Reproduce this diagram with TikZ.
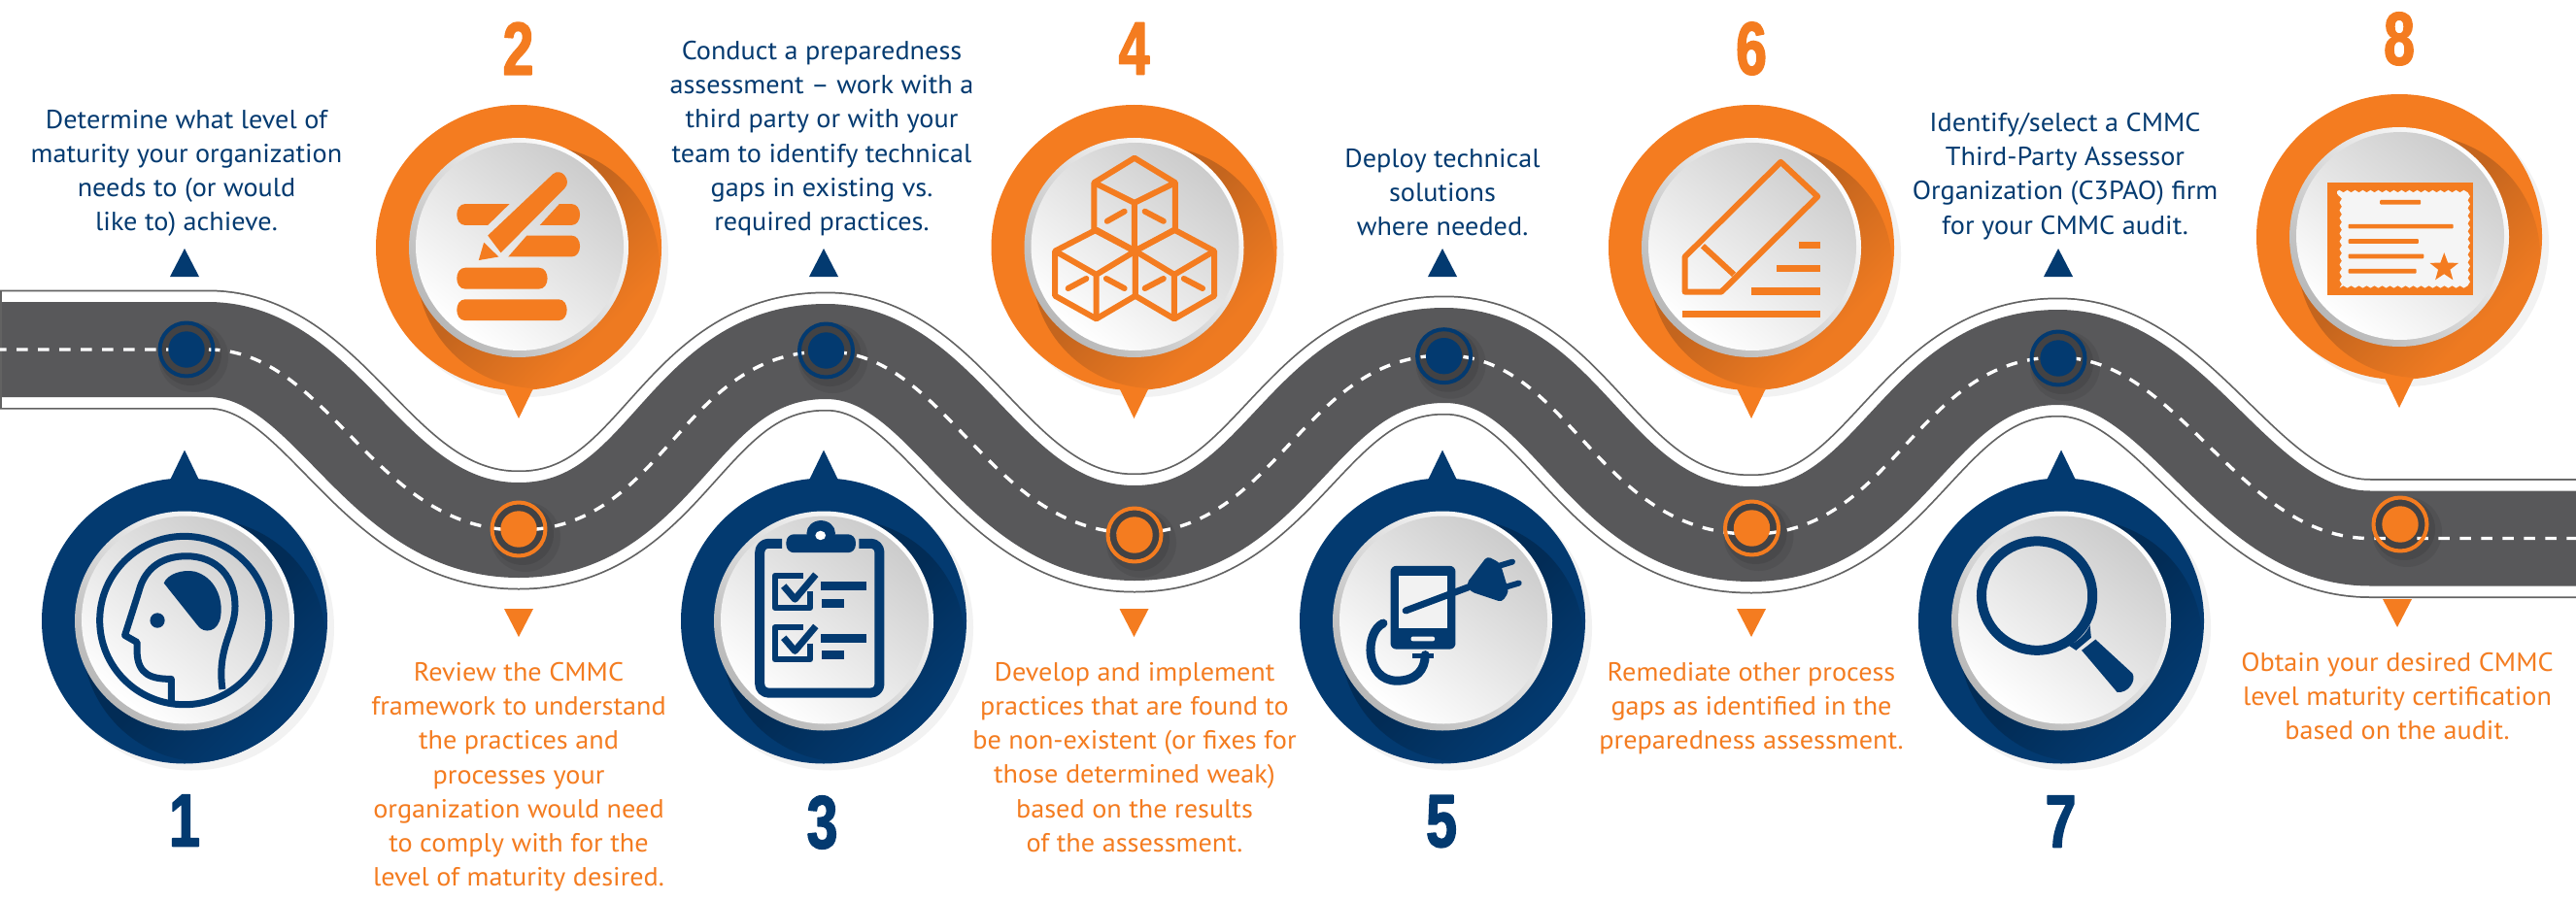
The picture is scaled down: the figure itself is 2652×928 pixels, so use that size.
\documentclass[tikz,border=0pt]{standalone}
\usepackage{fontspec}
\usetikzlibrary{shapes.geometric,decorations.pathmorphing}
\setmainfont[FakeStretch=1.045]{PT Sans}
\newfontfamily\numfont[FakeBold=2,FakeStretch=0.74]{Liberation Sans Bold}
\definecolor{rnavy}{HTML}{033A70}
\definecolor{rnavyd}{HTML}{022C56}
\definecolor{rorange}{HTML}{F47C20}
\definecolor{rorangeb}{HTML}{EE7A21}
\definecolor{rorangd}{HTML}{C4651E}
\definecolor{rroad}{HTML}{58585A}
\definecolor{rline}{HTML}{626262}
\pgfdeclarehorizontalshading{pinshadeorange}{100bp}{color(0bp)=(rorangd);color(46bp)=(rorangd);color(69bp)=(rorangeb);color(100bp)=(rorangeb)}
\pgfdeclarehorizontalshading{pinshadenavy}{100bp}{color(0bp)=(rnavyd);color(50bp)=(rnavyd);color(72bp)=(rnavy);color(100bp)=(rnavy)}
\tikzset{
 txt/.style={font=\fontsize{27}{35.2}\selectfont,align=center,inner sep=0pt,anchor=north},
 navytxt/.style={txt,text=rnavy},
 orgtxt/.style={txt,text=rorange},
 num/.style={font=\numfont\fontsize{77}{77}\selectfont,inner sep=0pt,anchor=center},
 panel/.style={shift={(#1,0)},x=0.4464pt,y=-0.5917pt},
}
\newcommand\mypin[5]{%
 \begin{scope}[shift={(#1,#2)}]
  \fill[black!5] (7,7) circle (147);
  \fill[#3] (0,0) circle (147);
  \fill[#3] (-15,#5*145) -- (15,#5*145) -- (0,#5*176) -- cycle;
  \begin{scope}
   \clip (0,0) circle (147);
   \shade[shading=#4,shading angle=-45] (20,20) circle (125);
  \end{scope}
  \shade[bottom color=black!28,top color=white,shading angle=-45] (0,0) circle (113);
  \shade[bottom color=white,top color=black!20,shading angle=-38] (1,-1) circle (107);
 \end{scope}}
\newcommand\mymark[3]{%
 \fill[black,opacity=.07] (#1+7,#2+8) circle (36);
 \fill[black,opacity=.09] (#1+4,#2+5) circle (32);
 \fill[rroad!75!black] (#1,#2) circle (28);
}
\newcommand\mymarktop[3]{%
 \draw[#3,line width=4pt] (#1,#2) circle (27.5);
 \fill[#3] (#1,#2) circle (18.7);
}
\newcommand\uptri[2]{\fill[rnavy] (#1-15,#2) -- (#1+15,#2) -- (#1,#2-29) -- cycle;}
\newcommand\dntri[2]{\fill[rorange] (#1-15,#2) -- (#1+15,#2) -- (#1,#2+29) -- cycle;}
\begin{document}
\begin{tikzpicture}[x=1pt,y=-1pt,line join=round]
\useasboundingbox (0,0) rectangle (2652,928);
\fill[white] (0,0) rectangle (2652,928);
% road
\def\roadpath{(-5,360) -- (214,360)
 .. controls (339,360) and (384,546) .. (534,546)
 .. controls (685,546) and (699,362) .. (850.5,362)
 .. controls (975,362) and (1018,549) .. (1168,549)
 .. controls (1315,549) and (1340,366) .. (1487,366)
 .. controls (1617,366) and (1643,550) .. (1803,550)
 .. controls (1950,550) and (1972,368) .. (2119,368)
 .. controls (2244,368) and (2305,554.5) .. (2440,554.5) -- (2660,554.5)}
\draw[rline,line width=123pt] \roadpath;
\draw[white,line width=119.5pt] \roadpath;
\draw[rroad,line width=98pt] \roadpath;
\draw[rline,line width=2pt] (1,300) -- (1,420);
% markers base
\mymark{192}{360}{rnavy}
\mymark{534}{545}{rorange}
\mymark{850.5}{361}{rnavy}
\mymark{1168}{551}{rorange}
\mymark{1486.6}{366.7}{rnavy}
\mymark{1803.5}{544}{rorange}
\mymark{2119}{369}{rnavy}
\mymark{2471}{540}{rorange}
\draw[white,line width=3.4pt,dash pattern=on 11.5pt off 10.5pt] \roadpath;
\mymarktop{192}{360}{rnavy}
\mymarktop{534}{545}{rorange}
\mymarktop{850.5}{361}{rnavy}
\mymarktop{1168}{551}{rorange}
\mymarktop{1486.6}{366.7}{rnavy}
\mymarktop{1803.5}{544}{rorange}
\mymarktop{2119}{369}{rnavy}
\mymarktop{2471}{540}{rorange}
% pins
\mypin{190}{639.5}{rnavy}{pinshadenavy}{-1}
\mypin{534}{255}{rorange}{pinshadeorange}{1}
\mypin{848}{639.5}{rnavy}{pinshadenavy}{-1}
\mypin{1167.5}{255}{rorange}{pinshadeorange}{1}
\mypin{1485}{639.5}{rnavy}{pinshadenavy}{-1}
\mypin{1803}{255}{rorange}{pinshadeorange}{1}
\mypin{2122}{639.5}{rnavy}{pinshadenavy}{-1}
\mypin{2470}{244}{rorange}{pinshadeorange}{1}
% triangles
\uptri{190}{285} \uptri{848}{285} \uptri{1485}{285} \uptri{2119}{285}
\dntri{534}{627} \dntri{1167.5}{627} \dntri{1803}{627} \dntri{2468}{617}
% numbers
\node[num,text=rnavy] (n1) at (190,845) {1};
\node[num,text=rorange] (n2) at (533.5,50) {2};
\node[num,text=rnavy] (n3) at (846.5,847) {3};
\node[num,text=rorange] (n4) at (1167.5,50) {4};
\node[num,text=rnavy] (n5) at (1484,846) {5};
\node[num,text=rorange] (n6) at (1803,50) {6};
\node[num,text=rnavy] (n7) at (2121.6,846) {7};
\node[num,text=rorange] (n8) at (2470,40) {8};
% texts
\node[navytxt] (t1) at (192,113) {Determine what level of\\maturity your organization\\needs to (or would\\like to) achieve.};
\node[orgtxt] (t2) at (534,682) {Review the CMMC\\framework to understand\\the practices and\\processes your\\organization would need\\to comply with for the\\level of maturity desired.};
\node[navytxt] (t3) at (846,42) {Conduct a preparedness\\assessment -- work with a\\third party or with your\\team to identify technical\\gaps in existing vs.\\required practices.};
\node[orgtxt] (t4) at (1168,682) {Develop and implement\\practices that are found to\\be non-existent (or fixes for\\those determined weak)\\based on the results\\of the assessment.};
\node[navytxt] (t5) at (1485,153) {Deploy technical\\solutions\\where needed.};
\node[orgtxt] (t6) at (1803,682) {Remediate other process\\gaps as identified in the\\preparedness assessment.};
\node[navytxt] (t7) at (2126,116) {Identify/select a CMMC\\Third-Party Assessor\\Organization (C3PAO) firm\\for your CMMC audit.};
\node[orgtxt] (t8) at (2468,672) {Obtain your desired CMMC\\level maturity certification\\based on the audit.};
% icon 1 head
\begin{scope}[panel=0]
 \draw[rnavy,line width=7pt] (425,1080) ellipse (195 and 146.5);
 \draw[rnavy,line width=7pt] (395,1220) -- (395,1182) .. controls (350,1182) and (318,1175) .. (316,1135)
   -- (316,1118) -- (288,1106) -- (320,1030) .. controls (335,985) and (380,968) .. (430,968)
   .. controls (500,968) and (545,1005) .. (542,1060) .. controls (540,1100) and (500,1130) .. (513,1200);
 \fill[rnavy] (378,1015) .. controls (385,1000) and (420,990) .. (450,995) .. controls (495,1005) and (515,1040) .. (509,1072)
   .. controls (505,1100) and (470,1105) .. (455,1088) -- cycle;
 \fill[rnavy] (363,1080) ellipse (17 and 13);
\end{scope}
% icon 2 pen
\begin{scope}[panel=0,rorange]
 \fill (1175,355) -- (1125,392) -- (1073,392) .. controls (1047,392) and (1047,355) .. (1073,355) -- cycle;
 \fill (1290,355) -- (1245,392) -- (1318,392) .. controls (1344,392) and (1344,355) .. (1318,355) -- cycle;
 \fill (1215,410) -- (1172,447) -- (1318,447) .. controls (1344,447) and (1344,410) .. (1318,410) -- cycle;
 \fill (1073,466) -- (1243,466) .. controls (1269,466) and (1269,503) .. (1243,503) -- (1073,503) .. controls (1047,503) and (1047,466) .. (1073,466) -- cycle;
 \fill (1073,521) -- (1288,521) .. controls (1314,521) and (1314,558) .. (1288,558) -- (1073,558) .. controls (1047,558) and (1047,521) .. (1073,521) -- cycle;
 \fill (1125,410) -- (1275,303) .. controls (1295,290) and (1320,315) .. (1302,328) -- (1155,440) -- cycle;
 \fill (1116,422) -- (1150,447) -- (1104,453) -- cycle;
\end{scope}
% icon 3 clipboard
\begin{scope}[panel=680,rnavy]
 \draw[line width=10pt,rounded corners=9pt] (280,946) -- (229,946) -- (229,1206) -- (505,1206) -- (505,946) -- (458,946);
 \fill[rounded corners=8pt] (290,930) rectangle (450,962);
 \fill (370,928) ellipse (33 and 22);
 \fill[white] (369,932) ellipse (12 and 8);
 \draw[line width=6pt] (345,1030) -- (345,1058) -- (264,1058) -- (264,1002) -- (330,1002);
 \draw[line width=7pt] (284,1020) -- (310,1043) -- (358,1000);
 \fill (370,1013) rectangle (475,1028);
 \fill (372,1043) rectangle (423,1058);
 \draw[line width=6pt] (345,1120) -- (345,1148) -- (264,1148) -- (264,1092) -- (330,1092);
 \draw[line width=7pt] (284,1110) -- (310,1133) -- (358,1090);
 \fill (370,1103) rectangle (475,1118);
 \fill (372,1133) rectangle (423,1148);
\end{scope}
% icon 4 cubes
\begin{scope}[panel=680,rorange,line width=6pt]
 \draw (1093,275) -- (1187,318) -- (1187,400) -- (1093,437) -- (1000,400) -- (1000,318) -- cycle;
 \draw (1000,318) -- (1093,353) -- (1187,318) (1093,353) -- (1093,437);
 \draw (1005,400) -- (910,437) -- (910,515) -- (1005,555) -- (1095,515) -- (1095,437) -- cycle;
 \draw (910,437) -- (1005,478) -- (1095,437) (1005,478) -- (1005,555);
 \draw (1185,400) -- (1095,437) -- (1095,515) -- (1185,555) -- (1277,515) -- (1277,437) -- cycle;
 \draw (1095,437) -- (1185,478) -- (1277,437) (1185,478) -- (1185,555);
 \draw[line cap=round] (1030,385) -- (1070,368) (1117,368) -- (1160,385)
  (940,502) -- (982,485) (1028,485) -- (1070,502) (1117,502) -- (1160,485) (1207,485) -- (1250,502);
\end{scope}
% icon 5 device
\begin{scope}[panel=1340,rnavy]
 \fill[rounded corners=6pt] (205,985) rectangle (355,1130);
 \fill[black!5] (225,1002) rectangle (335,1093);
 \fill[black!5,rounded corners=2pt] (252,1108) rectangle (307,1116);
 \draw[line width=7pt,line cap=round] (240,1063) -- (385,1022);
 \fill[rounded corners=4pt] (380,1016) -- (428,968) -- (458,980) -- (478,1030) -- (462,1048) -- (390,1030) -- cycle;
 \draw[line width=6pt,line cap=round] (455,985) -- (486,978) (470,1022) -- (501,1015);
 \draw[line width=9pt,line cap=round] (188,1085) .. controls (145,1100) and (145,1185) .. (220,1185)
   .. controls (265,1185) and (285,1165) .. (285,1140);
 \draw[line width=5pt] (255,1141) -- (305,1141);
\end{scope}
% icon 6 pencil
\begin{scope}[panel=1340,rorange,line width=6pt]
 \draw (884,447) -- (1105,282) -- (1190,342) -- (968,508) -- (884,508) -- cycle;
 \draw (925,428) -- (997,478);
 \fill (1148,421) rectangle (1196,433);
 \fill (1095,461) rectangle (1196,473);
 \fill (1037,501) rectangle (1196,513);
 \fill (878,541) rectangle (1196,553);
\end{scope}
% icon 7 magnifier
\begin{scope}[panel=1952,rnavy]
 \draw[line width=10pt] (325,1037) ellipse (128 and 95);
 \fill (395,1122) .. controls (420,1120) and (440,1100) .. (447,1088) -- (450,1110) -- (415,1132) -- cycle;
 \fill (428,1132) -- (460,1113) -- (545,1172) .. controls (555,1185) and (535,1207) .. (510,1205) -- cycle;
\end{scope}
% icon 8 certificate
\begin{scope}[panel=1952,rorange]
 \fill (995,318) rectangle (1331,513);
 \fill[black!4,decorate,decoration={snake,amplitude=1.2pt,segment length=8pt}] (1017,333) -- (1310,333) -- (1310,500) -- (1017,500) -- cycle;
 \fill[rounded corners=1pt] (1116,348) rectangle (1210,356);
 \fill[rounded corners=1pt] (1043,390) rectangle (1285,398);
 \fill[rounded corners=1pt] (1043,416) rectangle (1205,424);
 \fill[rounded corners=1pt] (1043,442) rectangle (1217,450);
 \fill[rounded corners=1pt] (1043,468) rectangle (1200,476);
 \node[star,star points=5,star point ratio=2.4,fill=rorange,inner sep=0pt,minimum size=31pt] (st) at (1264,466) {};
\end{scope}
\end{tikzpicture}
\end{document}
